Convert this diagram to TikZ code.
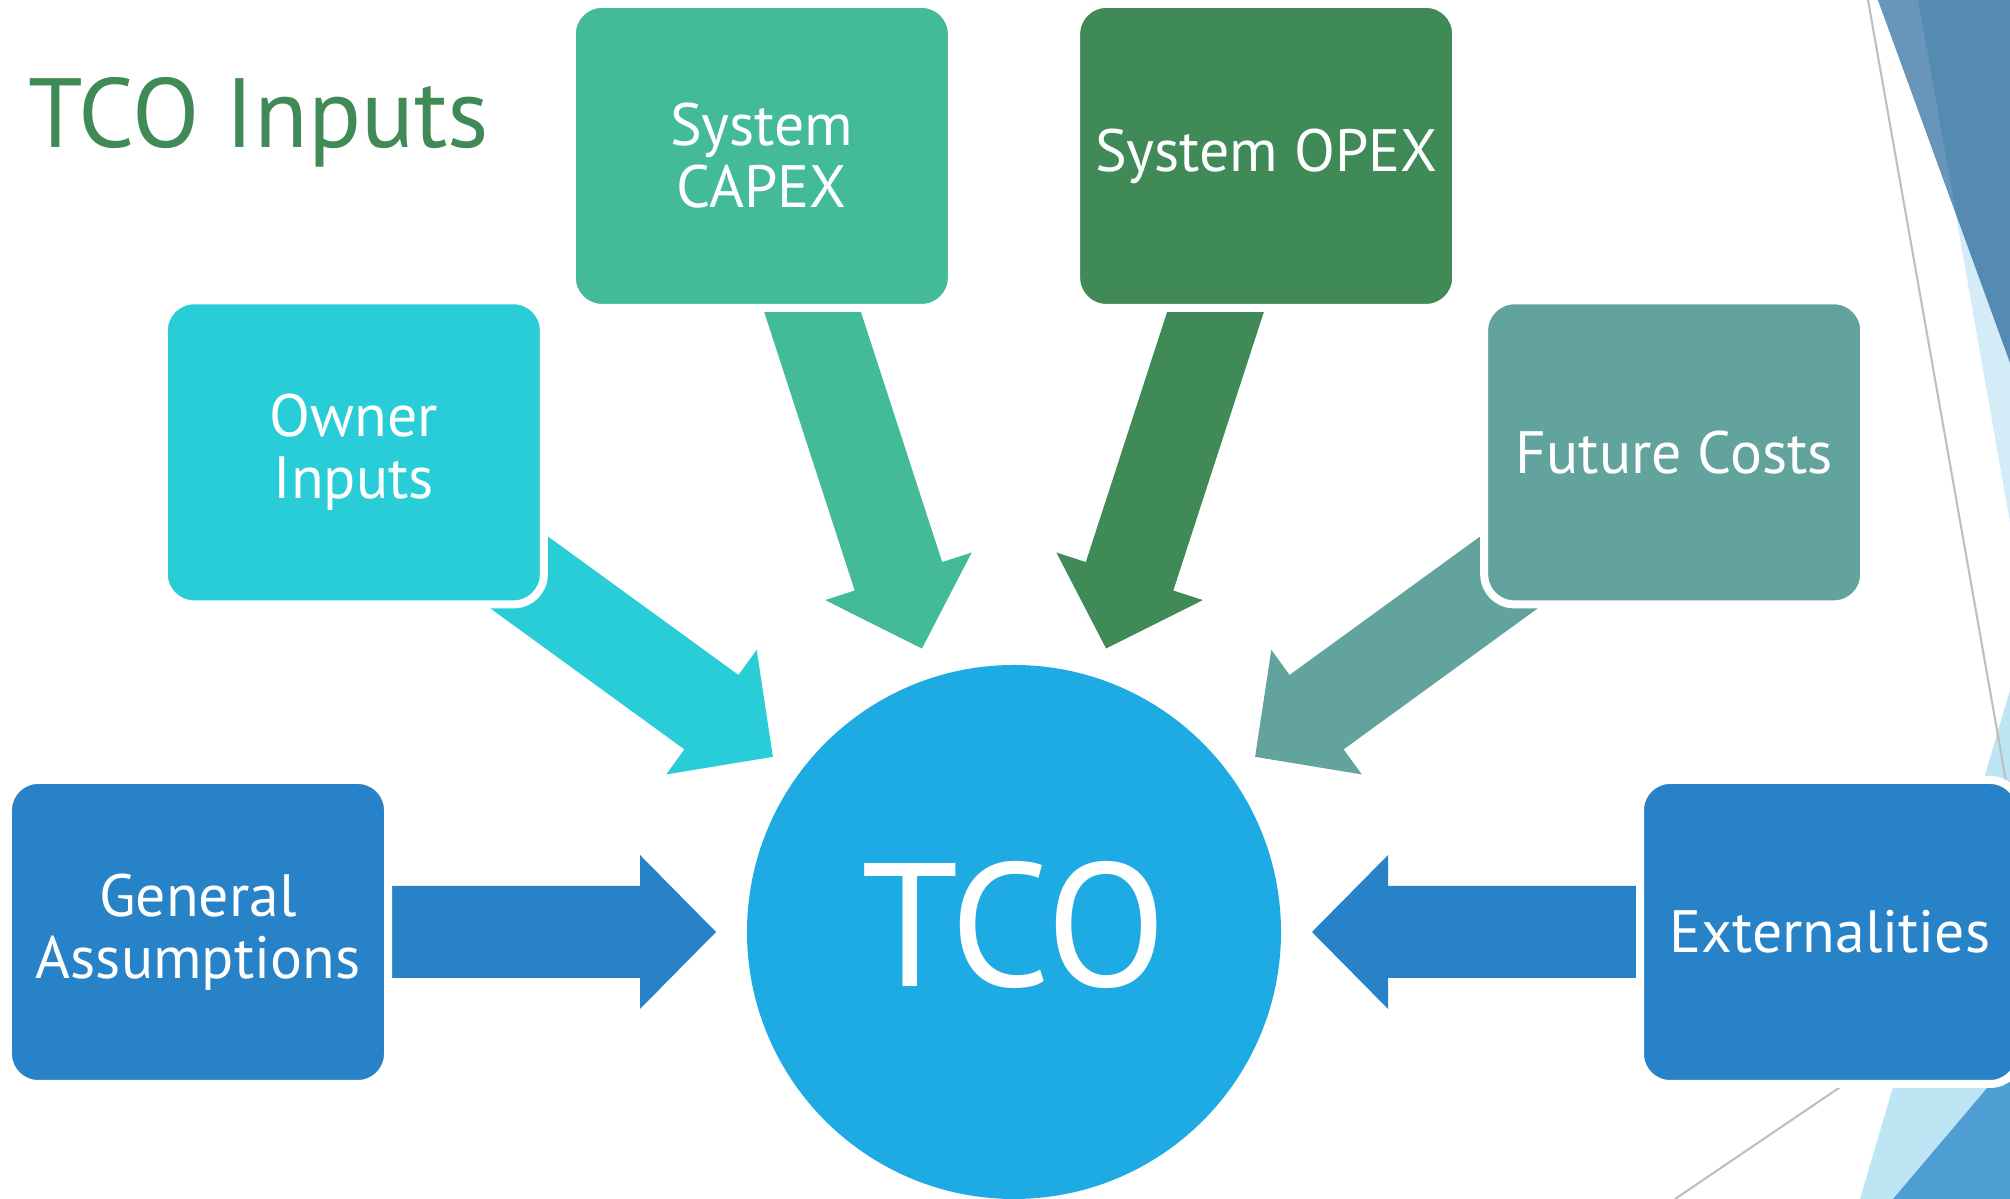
\documentclass[tikz,border=0pt]{standalone}
\usepackage{fontspec}
\setmainfont{PT Sans}
\usetikzlibrary{calc,backgrounds}

\definecolor{tcoblue}{HTML}{1EABE3}
\definecolor{genblue}{HTML}{2882C7}
\definecolor{ownercyan}{HTML}{29CDD8}
\definecolor{capexgreen}{HTML}{44BB98}
\definecolor{opexgreen}{HTML}{3F8A56}
\definecolor{futureteal}{HTML}{63A39D}
\definecolor{bgdark}{HTML}{558BB3}
\definecolor{bgband}{HTML}{6895BA}
\definecolor{bgpale}{HTML}{D3ECF7}
\definecolor{bglight}{HTML}{BDE5F4}
\definecolor{bgmid}{HTML}{4F9ED3}
\definecolor{bgline}{HTML}{BFBFBF}

% 宽箭头: 从方框中心指向 TCO 圆, 箭尖离圆心 2.98
\newcommand{\inarrow}[2]{%
  \coordinate (h) at ($(tco.center)!3.74cm!(#1.center)$);
  \fill[#2] ($(tco.center)!2.98cm!(#1.center)$)
    -- ($(h)!0.77cm!90:(tco.center)$) -- ($(h)!0.46cm!90:(tco.center)$)
    -- ($(#1.center)!0.46cm!90:(tco.center)$)
    -- ($(#1.center)!0.46cm!-90:(tco.center)$)
    -- ($(h)!0.46cm!-90:(tco.center)$) -- ($(h)!0.77cm!-90:(tco.center)$)
    -- cycle;
}

\begin{document}
\begin{tikzpicture}[
  box/.style={draw=white, line width=0.8mm, rounded corners=0.3cm,
    minimum width=3.8cm, minimum height=3.04cm, align=center,
    text=white, font=\fontsize{17}{17.6}\selectfont}]
  \useasboundingbox (0,0) rectangle (20.1,11.99);
  % 中心圆, 六个方框在半径 8.16 上每隔 36 度
  \node[circle, fill=tcoblue, minimum size=5.34cm, inner sep=0pt, text=white,
    font=\fontsize{50}{50}\selectfont] (tco) at (10.14,2.67) {\raisebox{0.17cm}{TCO}};
  \node[box, fill=genblue]    (general)  at ($(tco)+(180:8.16)$) {General\\Assumptions};
  \node[box, fill=ownercyan]  (owner)    at ($(tco)+(144:8.16)$) {Owner\\Inputs};
  \node[box, fill=capexgreen] (capex)    at ($(tco)+(108:8.16)$) {System\\CAPEX};
  \node[box, fill=opexgreen]  (opex)     at ($(tco)+(72:8.16)$)  {System OPEX};
  \node[box, fill=futureteal] (future)   at ($(tco)+(36:8.16)$)  {Future Costs};
  \node[box, fill=genblue]    (external) at ($(tco)+(0:8.16)$)   {Externalities};
  \node[anchor=base west, inner sep=0pt, text=opexgreen,
    font=\fontsize{28}{28}\selectfont] (title) at (0.28,10.51) {TCO Inputs};

  \begin{pgfonlayer}{background}
    % 右上角的三角形
    \fill[bgpale] (19.18,11.99) -- (20.1,11.99) -- (20.1,6.76) -- cycle;
    \fill[bgdark] (18.78,11.99) -- (20.1,11.99) -- (20.1,8.36) -- cycle;
    \fill[bgband] (18.78,11.99) -- (19.18,11.99) -- (19.56,9.86) -- cycle;
    % 右下角的三角形
    \fill[bglight] (20.1,5.09) -- (18.6,0) -- (20.1,0) -- cycle;
    \fill[bgmid] (20.1,1.38) -- (18.93,0) -- (20.1,0) -- cycle;
    % 细灰线
    \draw[bgline, line width=0.6pt] (18.68,11.99) -- (20.1,3.95);
    \draw[bgline, line width=0.6pt] (16.75,0) -- (19.2,1.66);
    % 箭头
    \inarrow{general}{genblue}
    \inarrow{owner}{ownercyan}
    \inarrow{capex}{capexgreen}
    \inarrow{opex}{opexgreen}
    \inarrow{future}{futureteal}
    \inarrow{external}{genblue}
  \end{pgfonlayer}
\end{tikzpicture}
\end{document}
